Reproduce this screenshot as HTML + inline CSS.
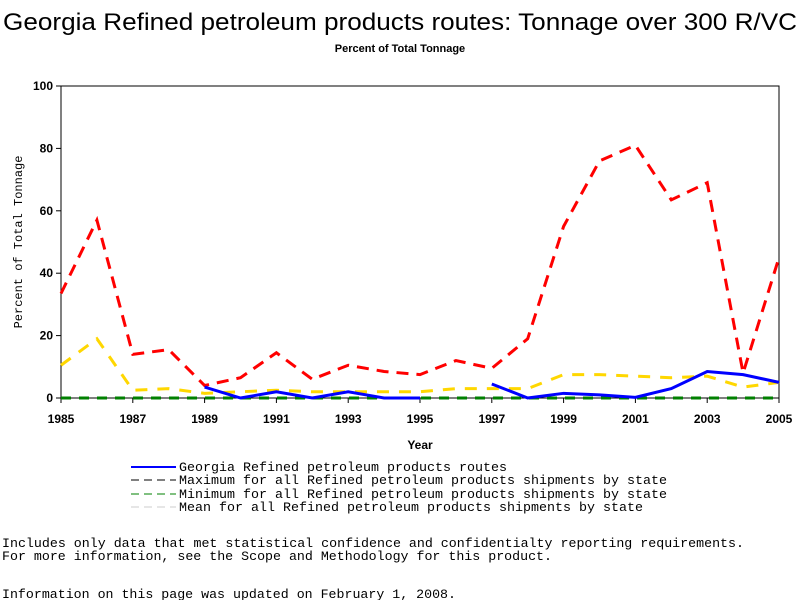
<!DOCTYPE html>
<html><head><meta charset="utf-8"><style>
body{margin:0;background:#fff;width:800px;height:600px;overflow:hidden;font-family:"Liberation Mono",monospace}
svg{display:block}
</style></head><body>
<svg id="c" width="800" height="600" xmlns="http://www.w3.org/2000/svg">
<text x="3" y="30" textLength="794" lengthAdjust="spacingAndGlyphs" font-family="Liberation Sans, sans-serif" font-size="24">Georgia Refined petroleum products routes: Tonnage over 300 R/VC</text>
<text x="400" y="52" text-anchor="middle" font-family="Liberation Sans, sans-serif" font-size="11" font-weight="bold">Percent of Total Tonnage</text>
<rect x="61" y="86" width="718" height="312" fill="none" stroke="#000"/>
<g id="ax"></g><g id="ser"></g>
<text x="420" y="449" text-anchor="middle" font-family="Liberation Sans, sans-serif" font-size="12" font-weight="bold">Year</text>
<text transform="translate(22,242) rotate(-90)" text-anchor="middle" font-size="12">Percent of Total Tonnage</text>
<g font-size="13">
<line x1="131" y1="467" x2="176" y2="467" stroke="#0000ff" stroke-width="2"/><text x="179" y="471" textLength="328" lengthAdjust="spacingAndGlyphs">Georgia Refined petroleum products routes</text>
<line x1="131" y1="480" x2="176" y2="480" stroke="#000" stroke-dasharray="8,5"/><text x="179" y="484" textLength="488" lengthAdjust="spacingAndGlyphs">Maximum for all Refined petroleum products shipments by state</text>
<line x1="131" y1="494" x2="176" y2="494" stroke="#008000" stroke-dasharray="8,5"/><text x="179" y="498" textLength="488" lengthAdjust="spacingAndGlyphs">Minimum for all Refined petroleum products shipments by state</text>
<line x1="131" y1="507" x2="176" y2="507" stroke="#ccc" stroke-dasharray="8,5"/><text x="179" y="511" textLength="464" lengthAdjust="spacingAndGlyphs">Mean for all Refined petroleum products shipments by state</text>
</g>
<text x="2" y="547" font-size="13" textLength="742" lengthAdjust="spacingAndGlyphs">Includes only data that met statistical confidence and confidentialty reporting requirements.</text>
<text x="2" y="560" font-size="13" textLength="550" lengthAdjust="spacingAndGlyphs">For more information, see the Scope and Methodology for this product.</text>
<text x="2" y="598" font-size="13" textLength="454" lengthAdjust="spacingAndGlyphs">Information on this page was updated on February 1, 2008.</text>
</svg>
<script>
const years=[1985,1986,1987,1988,1989,1990,1991,1992,1993,1994,1995,1996,1997,1998,1999,2000,2001,2002,2003,2004,2005];
const maxVals=[33.5,57,14,15.5,4,6.5,14.5,6,10.5,8.5,7.5,12,9.5,19,55,76,81,63.5,69,8,45];
const meanVals=[10.5,19,2.5,3,1.5,2,2.5,2,2,2,2,3,3,3,7.5,7.5,7,6.5,7,3.5,5];
const minVals=[0,0,0,0,0,0,0,0,0,0,0,0,0,0,0,0,0,0,0,0,0];
const gaVals=[null,null,null,null,3.5,0,2,0,2,0,0,null,4.5,0,1.5,1,0.2,3,8.5,7.5,5];
const yTicks=[0,20,40,60,80,100];
const xTicks=[1985,1987,1989,1991,1993,1995,1997,1999,2001,2003,2005];
const NS="http://www.w3.org/2000/svg";
const X=y=>61+(y-1985)*718/20, Y=v=>398-v*3.12;
const ax=document.getElementById('ax'), ser=document.getElementById('ser');
function mk(t,a,p){const e=document.createElementNS(NS,t);for(const k in a)e.setAttribute(k,a[k]);p.appendChild(e);return e;}
yTicks.forEach(v=>{mk('line',{x1:56,x2:61,y1:Y(v),y2:Y(v),stroke:'#000'},ax);
const t=mk('text',{x:53,y:Y(v)+4,'text-anchor':'end','font-family':'Liberation Sans, sans-serif','font-size':12,'font-weight':'bold'},ax);t.textContent=v;

});
xTicks.forEach(v=>{mk('line',{x1:X(v),x2:X(v),y1:398,y2:403,stroke:'#000'},ax);
const t=mk('text',{x:X(v),y:423,'text-anchor':'middle','font-family':'Liberation Sans, sans-serif','font-size':12,'font-weight':'bold'},ax);t.textContent=v;

});
function line(vals,color,dash,w,name){let d='',pen=false;vals.forEach((v,i)=>{if(v==null){pen=false;return;}d+=(pen?'L':'M')+X(years[i])+' '+Y(v)+' ';pen=true;});
const p=mk('path',{d:d,fill:'none',stroke:color,'stroke-width':w,'stroke-dasharray':dash},ser);

}
line(minVals,'#008000','10,8',3,'series-minimum');
line(meanVals,'#ffd700','12,10',3,'series-mean');
line(maxVals,'#ff0000','12,8',3,'series-maximum');
line(gaVals,'#0000ff','',3,'series-georgia');
</script>
</body></html>
